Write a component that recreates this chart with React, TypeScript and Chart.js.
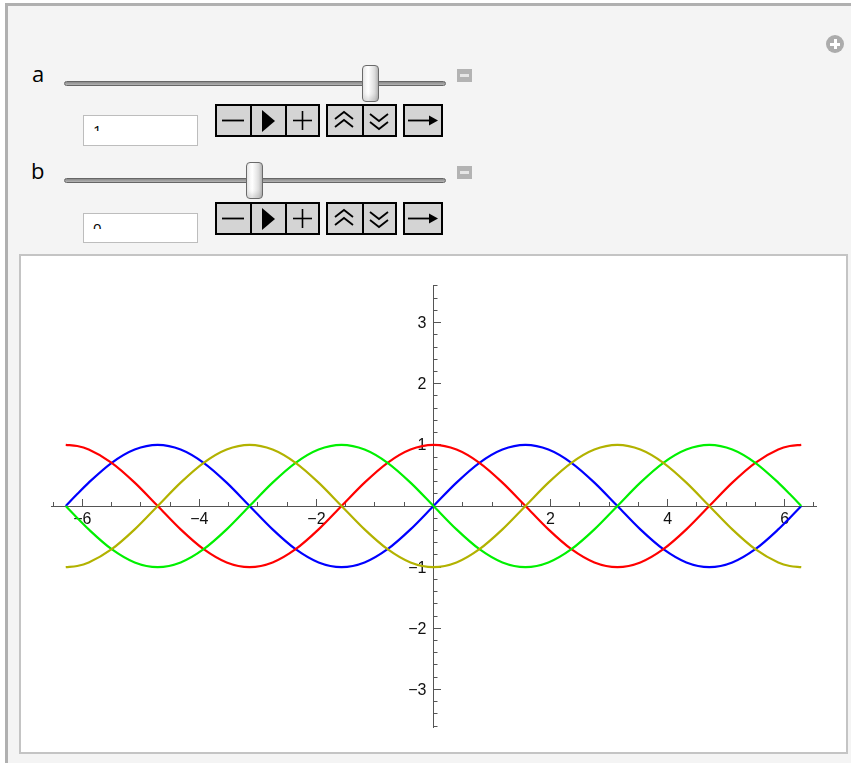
import React, { useEffect, useRef } from "react";
import { Chart, registerables } from "chart.js";

Chart.register(...registerables);

// Sample positions over [-2π, 2π] in steps of π/8 (π/16 next to the ends)
const xValues = [
  -6.283, -6.087, -5.890, -5.498, -5.105, -4.712, -4.320, -3.927, -3.534, -3.142,
  -2.749, -2.356, -1.963, -1.571, -1.178, -0.785, -0.393, 0,
  0.393, 0.785, 1.178, 1.571, 1.963, 2.356, 2.749, 3.142,
  3.534, 3.927, 4.320, 4.712, 5.105, 5.498, 5.890, 6.087, 6.283,
];

const sineValues = [
  0, 0.195, 0.383, 0.707, 0.924, 1, 0.924, 0.707, 0.383, 0,
  -0.383, -0.707, -0.924, -1, -0.924, -0.707, -0.383, 0,
  0.383, 0.707, 0.924, 1, 0.924, 0.707, 0.383, 0,
  -0.383, -0.707, -0.924, -1, -0.924, -0.707, -0.383, -0.195, 0,
];

const cosineValues = [
  1, 0.981, 0.924, 0.707, 0.383, 0, -0.383, -0.707, -0.924, -1,
  -0.924, -0.707, -0.383, 0, 0.383, 0.707, 0.924, 1,
  0.924, 0.707, 0.383, 0, -0.383, -0.707, -0.924, -1,
  -0.924, -0.707, -0.383, 0, 0.383, 0.707, 0.924, 0.981, 1,
];

const negSineValues = [
  0, -0.195, -0.383, -0.707, -0.924, -1, -0.924, -0.707, -0.383, 0,
  0.383, 0.707, 0.924, 1, 0.924, 0.707, 0.383, 0,
  -0.383, -0.707, -0.924, -1, -0.924, -0.707, -0.383, 0,
  0.383, 0.707, 0.924, 1, 0.924, 0.707, 0.383, 0.195, 0,
];

const negCosineValues = [
  -1, -0.981, -0.924, -0.707, -0.383, 0, 0.383, 0.707, 0.924, 1,
  0.924, 0.707, 0.383, 0, -0.383, -0.707, -0.924, -1,
  -0.924, -0.707, -0.383, 0, 0.383, 0.707, 0.924, 1,
  0.924, 0.707, 0.383, 0, -0.383, -0.707, -0.924, -0.981, -1,
];

const seriesColors = ["#0000ff", "#ff0000", "#00f000", "#b2b200"];

// Axis tick positions
const xMinorTicks = [
  -6.5, -6, -5.5, -5, -4.5, -4, -3.5, -3, -2.5, -2, -1.5, -1, -0.5,
  0.5, 1, 1.5, 2, 2.5, 3, 3.5, 4, 4.5, 5, 5.5, 6, 6.5,
];
const xLabelTicks = [-6, -4, -2, 2, 4, 6];
const yMinorTicks = [
  -3.6, -3.4, -3.2, -3, -2.8, -2.6, -2.4, -2.2, -2, -1.8, -1.6, -1.4, -1.2, -1,
  -0.8, -0.6, -0.4, -0.2, 0.2, 0.4, 0.6, 0.8, 1, 1.2, 1.4, 1.6, 1.8, 2,
  2.2, 2.4, 2.6, 2.8, 3, 3.2, 3.4, 3.6,
];
const yLabelTicks = [-3, -2, -1, 1, 2, 3];

const AXIS_COLOR = "#555555";
const LABEL_COLOR = "#111111";
const TICK_FONT = "'Liberation Sans', Arial, sans-serif";
const TICK_SIZE = 16;

const fmt = (v: number) =>
  v < 0 ? "\u2212" + String(Math.abs(v)) : String(v);

// Inward tick marks on both axes plus the vertical axis labels
const axisDecor = {
  id: "axisDecor",
  beforeDatasetsDraw(chart: any) {
    const { ctx, scales } = chart;
    const xs = scales.x;
    const ys = scales.y;
    const x0 = Math.round(xs.getPixelForValue(0) - 0.5) + 0.5;
    const y0 = Math.round(ys.getPixelForValue(0) - 0.5) + 0.5;
    ctx.save();
    ctx.strokeStyle = AXIS_COLOR;
    ctx.lineWidth = 1;
    ctx.beginPath();
    for (const v of xMinorTicks) {
      const px = Math.round(xs.getPixelForValue(v) - 0.5) + 0.5;
      const len = xLabelTicks.includes(v) ? 7.5 : 4.5;
      ctx.moveTo(px, y0);
      ctx.lineTo(px, y0 - len);
    }
    for (const v of yMinorTicks) {
      const py = Math.round(ys.getPixelForValue(v) - 0.5) + 0.5;
      const len = yLabelTicks.includes(v) ? 7.5 : 4;
      ctx.moveTo(x0, py);
      ctx.lineTo(x0 + len, py);
    }
    ctx.stroke();

    ctx.fillStyle = LABEL_COLOR;
    ctx.font = `${TICK_SIZE}px ${TICK_FONT}`;
    ctx.textAlign = "right";
    ctx.textBaseline = "middle";
    for (const v of yLabelTicks) {
      ctx.fillText(fmt(v), x0 - 7, ys.getPixelForValue(v) + 1);
    }
    ctx.restore();
  },
};

function PlotChart() {
  const ref = useRef<HTMLCanvasElement | null>(null);
  useEffect(() => {
    if (!ref.current) return;
    const series = [sineValues, cosineValues, negSineValues, negCosineValues];
    const chart = new Chart(ref.current, {
      type: "line",
      data: {
        datasets: series.map((vals, i) => ({
          data: xValues.map((x, j) => ({ x, y: vals[j] })),
          borderColor: seriesColors[i],
          borderWidth: 2.2,
          pointRadius: 0,
          fill: false,
          cubicInterpolationMode: "monotone" as const,
          order: 4 - i,
        })),
      },
      options: {
        animation: false,
        responsive: false,
        maintainAspectRatio: false,
        layout: { padding: { left: 30, right: 30, top: 29, bottom: 25 } },
        plugins: { legend: { display: false }, tooltip: { enabled: false } },
        scales: {
          x: {
            type: "linear",
            min: -6.535,
            max: 6.535,
            position: { y: 0 } as any,
            grid: { display: false, drawTicks: false },
            border: { display: true, color: AXIS_COLOR, width: 1 },
            ticks: {
              stepSize: 2,
              includeBounds: false,
              autoSkip: false,
              maxRotation: 0,
              padding: 4,
              color: LABEL_COLOR,
              font: { family: TICK_FONT, size: TICK_SIZE },
              callback: (v: any) => (xLabelTicks.includes(Number(v)) ? fmt(Number(v)) : ""),
            },
          },
          y: {
            type: "linear",
            min: -3.615,
            max: 3.615,
            position: { x: 0 } as any,
            grid: { display: false, drawTicks: false },
            border: { display: true, color: AXIS_COLOR, width: 1 },
            ticks: { display: false, stepSize: 1, includeBounds: false },
          },
        },
      },
      plugins: [axisDecor],
    });
    return () => chart.destroy();
  }, []);
  return <canvas ref={ref} width={825} height={496} style={{ display: "block" }} />;
}

const abs = (left: number, top: number, width: number, height: number) => ({
  position: "absolute" as const,
  left,
  top,
  width,
  height,
  boxSizing: "border-box" as const,
});

function Slider({ top, thumbLeft }: { top: number; thumbLeft: number }) {
  return (
    <>
      <div
        style={{
          ...abs(64, top - 2, 382, 5),
          border: "1px solid #666",
          borderRadius: 3,
          background: "linear-gradient(#8a8a8a, #b4b4b4)",
        }}
      />
      <div
        style={{
          ...abs(thumbLeft, top - 18, 17, 37),
          border: "1px solid #6a6a6a",
          borderRadius: 4,
          background: "linear-gradient(90deg, #f2f2f2 0%, #ffffff 35%, #dcdcdc 80%, #bdbdbd 100%)",
          boxShadow: "inset 0 -4px 5px rgba(0,0,0,0.12)",
        }}
      />
      <div style={{ ...abs(457, top - 14, 15, 13), background: "#b3b3b3" }}>
        <div style={{ ...abs(3, 5, 9, 3), background: "#e6e6e6" }} />
      </div>
    </>
  );
}

function Cell({ left, top, width, children }: { left: number; top: number; width: number; children: React.ReactNode }) {
  return (
    <div style={{ ...abs(left, top, width, 33), border: "2px solid #000", background: "#d4d4d4" }}>
      <svg width={width - 4} height={29} style={{ position: "absolute", left: 0, top: 0 }}>
        {children}
      </svg>
    </div>
  );
}

function ButtonRow({ top }: { top: number }) {
  const st = { stroke: "#000", strokeWidth: 1.8, fill: "none" };
  return (
    <>
      <Cell left={215} top={top} width={37}>
        <line x1={5} y1={14.5} x2={27} y2={14.5} {...st} />
      </Cell>
      <Cell left={250} top={top} width={37}>
        <polygon points="10,4 10,26 23,15" fill="#000" />
      </Cell>
      <Cell left={285} top={top} width={35}>
        <line x1={6} y1={14.5} x2={25} y2={14.5} {...st} strokeWidth={1.6} />
        <line x1={15.5} y1={5} x2={15.5} y2={24} {...st} strokeWidth={1.6} />
      </Cell>
      <Cell left={326} top={top} width={38}>
        <polyline points="7,13 16,6 25,13" {...st} strokeWidth={1.8} />
        <polyline points="7,21 16,14 25,21" {...st} strokeWidth={1.8} />
      </Cell>
      <Cell left={362} top={top} width={35}>
        <polyline points="6,8 15,15 24,8" {...st} strokeWidth={1.8} />
        <polyline points="6,16 15,23 24,16" {...st} strokeWidth={1.8} />
      </Cell>
      <Cell left={403} top={top} width={40}>
        <line x1={3} y1={14.5} x2={27} y2={14.5} {...st} />
        <polygon points="24,9.5 33,14.5 24,19.5" fill="#000" />
      </Cell>
    </>
  );
}

function ValueField({ top, height, text }: { top: number; height: number; text: string }) {
  return (
    <>
      <div style={{ ...abs(83, top, 115, height), border: "1px solid #bdbdbd", background: "#fff" }} />
      <div style={{ ...abs(93, top + 11, 20, 5), overflow: "hidden" }}>
        <div
          style={{
            position: "absolute",
            left: 0,
            top: -3,
            fontFamily: "'Open Sans', sans-serif",
            fontSize: 15,
            lineHeight: "15px",
            color: "#000",
          }}
        >
          {text}
        </div>
      </div>
    </>
  );
}

export default function App() {
  const labelStyle = {
    position: "absolute" as const,
    fontFamily: "'Open Sans', sans-serif",
    fontSize: 22,
    lineHeight: "24px",
    color: "#000",
  };
  return (
    <div
      style={{
        position: "fixed",
        left: 0,
        top: 0,
        width: 851,
        height: 763,
        overflow: "hidden",
        background: "#fff",
      }}
    >
      <div
        style={{
          ...abs(5, 3, 900, 820),
          border: "3px solid #b0b0b0",
          background: "#f4f4f4",
        }}
      />
      {/* collapse/expand badge */}
      <div style={{ ...abs(826, 35, 18, 18), borderRadius: "50%", background: "#acacac" }}>
        <div style={{ ...abs(4, 7.5, 10, 3), background: "#fff" }} />
        <div style={{ ...abs(7.5, 4, 3, 10), background: "#fff" }} />
      </div>

      <div style={{ ...labelStyle, left: 32, top: 61 }}>a</div>
      <Slider top={83} thumbLeft={362} />
      <ValueField top={115} height={31} text="1" />
      <ButtonRow top={104} />

      <div style={{ ...labelStyle, left: 31, top: 158 }}>b</div>
      <Slider top={180} thumbLeft={246} />
      <ValueField top={213} height={30} text="0" />
      <ButtonRow top={202} />

      <div
        style={{
          ...abs(19, 254, 829, 500),
          border: "2px solid #c4c4c4",
          background: "#fff",
        }}
      >
        <PlotChart />
      </div>
    </div>
  );
}
